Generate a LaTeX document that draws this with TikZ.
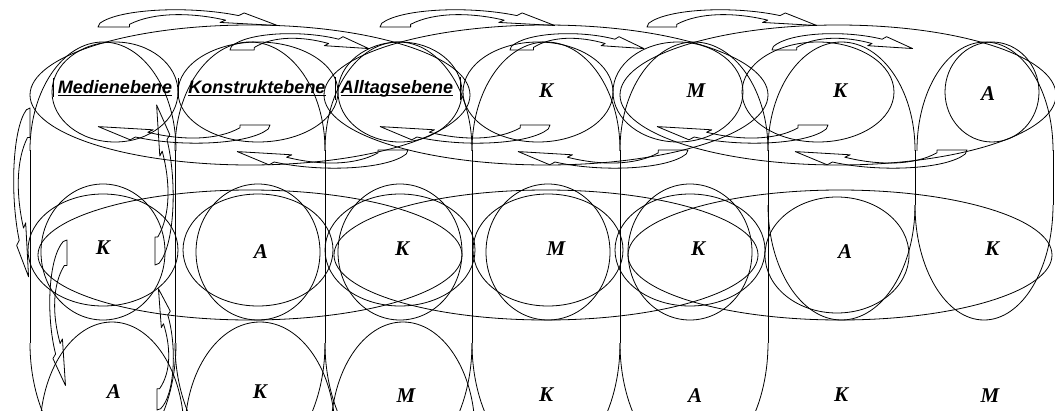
\documentclass[tikz,border=0pt]{standalone}
\usepackage{fontspec}
\setmainfont{Liberation Serif}
\newfontfamily\titlefont{Liberation Sans}
\begin{document}
\begin{tikzpicture}[x=1pt,y=-1pt,
  ln/.style={line width=0.8pt,black,line join=round},
  lbl/.style={font=\fontsize{21}{25}\selectfont\bfseries\itshape,inner sep=0pt,anchor=base},
  ttl/.style={font=\titlefont\fontsize{18}{22}\selectfont\bfseries\itshape,inner sep=0pt,anchor=base},
  uline/.style={line width=1.1pt},
  pics/carrow/.style={code={
    \draw[ln] (0,1) -- (0.01,0.8) .. controls (0.12,0.02) and (0.5,-0.12) .. (0.76,0.4)
      -- (0.79,0.26) -- (0.97,0.92) -- (0.66,0.76) -- (0.69,0.64)
      .. controls (0.5,0.22) and (0.3,0.22) .. (0.17,0.86) -- (0.17,1) -- cycle;
  }}
]
\fill[white] (0,0) rectangle (1055,410);
\clip (0,0) rectangle (1055,410);
\useasboundingbox (0,0) rectangle (1055,410);

% big horizontal ellipses, row 1 and row 2
\draw[ln] (250,95) ellipse [x radius=220,y radius=70];
\draw[ln] (546,95) ellipse [x radius=222,y radius=70];
\draw[ln] (838,95) ellipse [x radius=218,y radius=70];
\draw[ln] (250,255) ellipse [x radius=212,y radius=65];
\draw[ln] (546,255) ellipse [x radius=212,y radius=65];
\draw[ln] (840,255) ellipse [x radius=212,y radius=65];

% row 1 cell ellipses
\draw[ln] (115,92) ellipse [x radius=63,y radius=50];
\draw[ln] (258,92) ellipse [x radius=80,y radius=50];
\draw[ln] (400,92) ellipse [x radius=62,y radius=50];
\draw[ln] (538,92) ellipse [x radius=75,y radius=50];
\draw[ln] (678,92) ellipse [x radius=65,y radius=50];
\draw[ln] (818,92) ellipse [x radius=76,y radius=50];
\draw[ln] (992,92) ellipse [x radius=47,y radius=50];

% row 2 cell shapes
\foreach \cx in {103,258,400,548,690}{
  \draw[ln] (\cx,252) ellipse [x radius=62,y radius=68];
  \draw[ln] (\cx,250) ellipse [x radius=75,y radius=56];
}
\draw[ln] (837,255) ellipse [x radius=72,y radius=58];

% row 3 cell ellipses
\draw[ln] (112,432) ellipse [x radius=72,y radius=110];
\draw[ln] (260,432) ellipse [x radius=75,y radius=110];
\draw[ln] (403,432) ellipse [x radius=72,y radius=110];

% column shapes: upper arches
\begin{scope}
  \clip (0,0) rectangle (1055,150);
  \draw[ln] (103,150) ellipse [x radius=73,y radius=108];
  \draw[ln] (250,150) ellipse [x radius=75,y radius=108];
  \draw[ln] (398.5,150) ellipse [x radius=73.5,y radius=108];
  \draw[ln] (546,150) ellipse [x radius=74,y radius=108];
  \draw[ln] (694,150) ellipse [x radius=74,y radius=108];
  \draw[ln] (841.5,150) ellipse [x radius=73.5,y radius=108];
  \draw[ln] (985,150) ellipse [x radius=68,y radius=108];
\end{scope}
% column sides
\foreach \xx in {30,175,325,472,620,768}{
  \draw[ln] (\xx,150) -- (\xx,343);
}
\draw[ln] (915,150) -- (915,205);
\draw[ln] (1053,150) -- (1053,205);
% lower halves
\begin{scope}
  \clip (0,343) rectangle (780,420);
  \draw[ln] (103,343) ellipse [x radius=73,y radius=123];
  \draw[ln] (250,343) ellipse [x radius=75,y radius=123];
  \draw[ln] (398.5,343) ellipse [x radius=73.5,y radius=123];
  \draw[ln] (546,343) ellipse [x radius=74,y radius=123];
  \draw[ln] (694,343) ellipse [x radius=74,y radius=123];
\end{scope}
\begin{scope}
  \clip (760,205) rectangle (1060,420);
  \draw[ln] (841.5,205) ellipse [x radius=73.5,y radius=115];
  \draw[ln] (984,205) ellipse [x radius=69,y radius=115];
\end{scope}

% curved block arrows, top
\pic[xscale=185,yscale=19] at (98,8) {carrow};
\pic[xscale=180,yscale=19] at (380,8) {carrow};
\pic[xscale=175,yscale=19] at (647,8) {carrow};
\pic[xscale=143,yscale=18] at (230,32) {carrow};
\pic[xscale=138,yscale=18] at (510,32) {carrow};
\pic[xscale=145,yscale=18] at (772,32) {carrow};
% curved block arrows, lower (turned round)
\pic[xscale=-177,yscale=-20] at (270,145) {carrow};
\pic[xscale=-176,yscale=-20] at (408,170) {carrow};
\pic[xscale=-175,yscale=-20] at (550,145) {carrow};
\pic[xscale=-175,yscale=-20] at (688,170) {carrow};
\pic[xscale=-176,yscale=-20] at (828,145) {carrow};
\pic[xscale=-177,yscale=-20] at (967,170) {carrow};
% curved block arrows, left, vertical
\pic[rotate=-90,xscale=174,yscale=-18] at (12,108) {carrow};
\pic[rotate=-90,xscale=150,yscale=-19] at (48,240) {carrow};
\pic[rotate=-90,xscale=-165,yscale=20] at (175,265) {carrow};
\pic[rotate=-90,xscale=-125,yscale=18] at (175,410) {carrow};

% short bars beside the titles
\draw[ln] (53,78) -- (53,97);
\draw[ln] (178,78) -- (178,98);
\draw[ln] (335,77) -- (335,100);
\draw[ln] (460,77) -- (460,100);

% titles
\node[ttl] (t1) at (115,93) {Medienebene};
\node[ttl] (t2) at (257,93) {Konstruktebene};
\node[ttl] (t3) at (397,93) {Alltagsebene};
\foreach \t in {t1,t2,t3}{
  \draw[uline] ([yshift=-2.2pt]\t.base west) -- ([yshift=-2.2pt]\t.base east);
}

% row 1 labels
\node[lbl] (a14) at (546,97) {K};
\node[lbl] (a15) at (696,97) {M};
\node[lbl] (a16) at (840,97) {K};
\node[lbl] (a17) at (988,100) {A};
% row 2 labels
\node[lbl] (a21) at (103,254) {K};
\node[lbl] (a22) at (261,258) {A};
\node[lbl] (a23) at (402,255) {K};
\node[lbl] (a24) at (556,255) {M};
\node[lbl] (a25) at (698,255) {K};
\node[lbl] (a26) at (845,258) {A};
\node[lbl] (a27) at (992,255) {K};
% row 3 labels
\node[lbl] (a31) at (114,398) {A};
\node[lbl] (a32) at (260,398) {K};
\node[lbl] (a33) at (406,402) {M};
\node[lbl] (a34) at (546,401) {K};
\node[lbl] (a35) at (695,402) {A};
\node[lbl] (a36) at (841,401) {K};
\node[lbl] (a37) at (990,402) {M};
\end{tikzpicture}
\end{document}
